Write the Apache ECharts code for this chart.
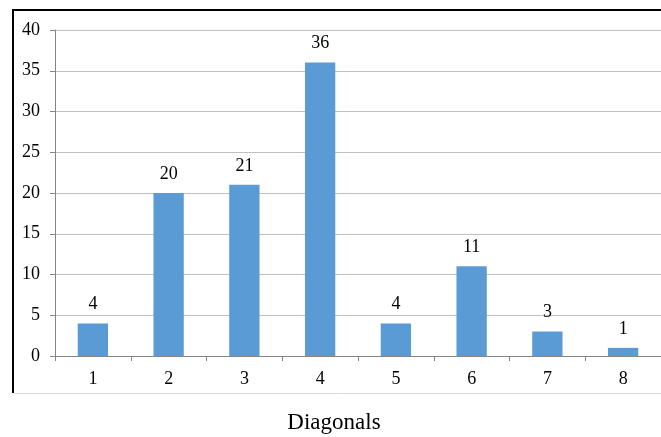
<!DOCTYPE html>
<html>
<head>
<meta charset="utf-8">
<script src="https://cdn.jsdelivr.net/npm/echarts@6/dist/echarts.min.js"></script>
<style>
  html, body { margin: 0; padding: 0; background: #fff; }
  #chart { width: 661px; height: 437px; }
</style>
</head>
<body>
<div id="chart"></div>
<script>
// Counts per number of diagonals
const categories = ['1', '2', '3', '4', '5', '6', '7', '8'];
const counts = [4, 20, 21, 36, 4, 11, 3, 1];
const yTicks = { min: 0, max: 40, interval: 5 };
const xTitle = 'Diagonals';

const serif = '"Liberation Serif", "Times New Roman", serif';
const chart = echarts.init(document.getElementById('chart'), null, { renderer: 'canvas' });

chart.setOption({
  backgroundColor: '#ffffff',
  animation: false,
  grid: { left: 55, right: -1, top: 30, bottom: 81 },
  xAxis: {
    type: 'category',
    data: categories,
    axisLine: { lineStyle: { color: '#868686', width: 1 } },
    axisTick: { show: true, alignWithLabel: false, length: 5, lineStyle: { color: '#868686' } },
    axisLabel: { color: '#000', fontFamily: serif, fontSize: 18, margin: 14 }
  },
  yAxis: {
    type: 'value',
    min: yTicks.min,
    max: yTicks.max,
    interval: yTicks.interval,
    axisLine: { show: true, lineStyle: { color: '#868686', width: 1 } },
    axisTick: { show: true, length: 5, lineStyle: { color: '#868686' } },
    splitLine: { lineStyle: { color: '#bfbfbf', width: 1 } },
    axisLabel: { color: '#000', fontFamily: serif, fontSize: 18, margin: 15 }
  },
  series: [{
    type: 'bar',
    data: counts,
    barWidth: '40%',
    itemStyle: { color: '#5B9BD5' },
    label: {
      show: true,
      position: 'top',
      distance: 10,
      color: '#000',
      fontFamily: serif,
      fontSize: 18
    }
  }],
  graphic: [
    { type: 'line', shape: { x1: 13, y1: 10, x2: 661, y2: 10 }, style: { stroke: '#000', lineWidth: 2 } },
    { type: 'line', shape: { x1: 13, y1: 9, x2: 13, y2: 393 }, style: { stroke: '#000', lineWidth: 2 } },
    { type: 'line', shape: { x1: 14, y1: 393.5, x2: 661, y2: 393.5 }, style: { stroke: '#d9d9d9', lineWidth: 1 } },
    {
      type: 'text',
      x: 334,
      y: 423,
      style: { text: xTitle, fill: '#000', font: '23px ' + serif, align: 'center', verticalAlign: 'middle' }
    }
  ]
});
</script>
</body>
</html>
